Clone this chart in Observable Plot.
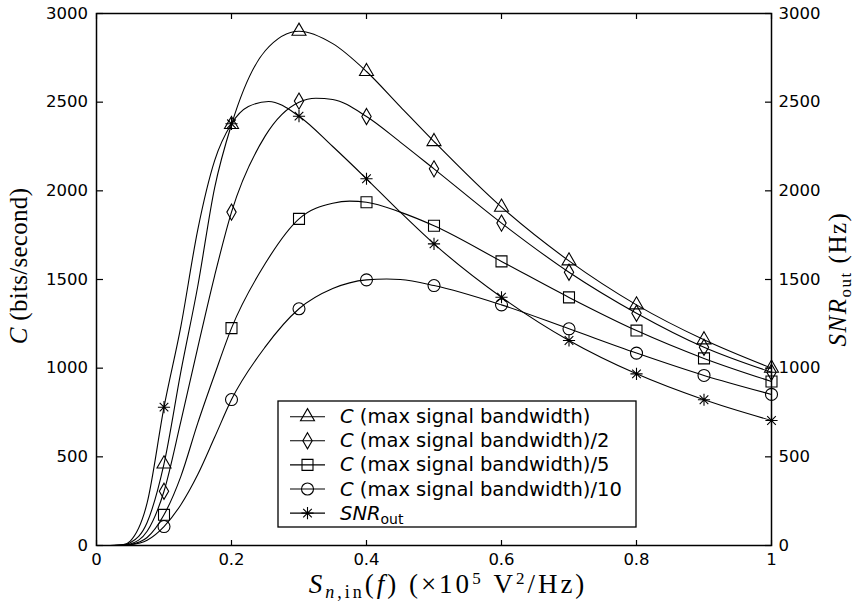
<!DOCTYPE html>
<html><head><meta charset="utf-8">
<script src="https://cdn.jsdelivr.net/npm/d3@7"></script>
<script src="https://cdn.jsdelivr.net/npm/@observablehq/plot@0.6"></script>
<style>body{margin:0;background:#fff}</style>
</head><body><div id="chart"></div>
<script>
// ---- data ----
const xTicks = [0, 0.2, 0.4, 0.6, 0.8, 1];
const yTicks = [0, 500, 1000, 1500, 2000, 2500, 3000];
const markerX = [0.1, 0.2, 0.3, 0.4, 0.5, 0.6, 0.7, 0.8, 0.9, 1.0];

const triMarkers  = [460, 2374, 2900, 2673, 2278, 1908, 1605, 1357, 1160, 1000];
const diaMarkers  = [306, 1880, 2506, 2419, 2124, 1818, 1541, 1310, 1118, 977];
const sqMarkers   = [173, 1226, 1842, 1936, 1803, 1602, 1399, 1212, 1055, 925];
const circMarkers = [107, 823, 1335, 1498, 1466, 1357, 1222, 1085, 959, 852];
const snrMarkers  = [780, 2378, 2421, 2068, 1701, 1400, 1156, 968, 822, 705];

const triCurveX  = [0.02, 0.04, 0.05, 0.075, 0.1, 0.125, 0.15, 0.175, 0.2, 0.25, 0.3, 0.35, 0.4, 0.45, 0.5, 0.6, 0.7, 0.8, 0.9, 1.0];
const triCurveY  = [0, 2, 15, 130, 460, 980, 1462, 2017, 2374, 2790, 2900, 2830, 2673, 2475, 2278, 1908, 1605, 1357, 1160, 1000];
const diaCurveX  = [0.02, 0.04, 0.05, 0.075, 0.1, 0.125, 0.15, 0.175, 0.2, 0.25, 0.3, 0.325, 0.35, 0.4, 0.45, 0.5, 0.6, 0.7, 0.8, 0.9, 1.0];
const diaCurveY  = [0, 1, 8, 80, 306, 700, 1116, 1521, 1880, 2310, 2500, 2522, 2515, 2419, 2275, 2124, 1818, 1541, 1310, 1118, 977];
const sqCurveX   = [0.02, 0.04, 0.05, 0.075, 0.1, 0.125, 0.15, 0.175, 0.2, 0.25, 0.3, 0.35, 0.375, 0.4, 0.45, 0.5, 0.6, 0.7, 0.8, 0.9, 1.0];
const sqCurveY   = [0, 1, 5, 45, 173, 390, 690, 964, 1226, 1590, 1842, 1930, 1942, 1936, 1880, 1803, 1602, 1399, 1212, 1055, 925];
const circCurveX = [0.02, 0.04, 0.05, 0.075, 0.1, 0.125, 0.15, 0.175, 0.2, 0.25, 0.3, 0.35, 0.4, 0.43, 0.45, 0.5, 0.6, 0.7, 0.8, 0.9, 1.0];
const circCurveY = [0, 1, 4, 30, 107, 230, 400, 610, 823, 1120, 1335, 1449, 1498, 1503, 1500, 1466, 1357, 1222, 1085, 959, 852];
const snrCurveX  = [0.02, 0.04, 0.05, 0.075, 0.1, 0.125, 0.15, 0.175, 0.2, 0.225, 0.255, 0.3, 0.35, 0.4, 0.45, 0.5, 0.6, 0.7, 0.8, 0.9, 1.0];
const snrCurveY  = [0, 5, 25, 240, 780, 1236, 1780, 2170, 2378, 2475, 2504, 2421, 2250, 2068, 1880, 1701, 1400, 1156, 968, 822, 705];

const legendLabels = [" (max signal bandwidth)", " (max signal bandwidth)/2", " (max signal bandwidth)/5", " (max signal bandwidth)/10", null];

// MATLAB-style 8-armed asterisk
const asterisk8 = {
  draw(ctx, size) {
    const r = Math.sqrt(size / Math.PI) * 1.05, d = r * Math.SQRT1_2;
    ctx.moveTo(0, -r); ctx.lineTo(0, r);
    ctx.moveTo(-r, 0); ctx.lineTo(r, 0);
    ctx.moveTo(-d, -d); ctx.lineTo(d, d);
    ctx.moveTo(-d, d); ctx.lineTo(d, -d);
  }
};

const series = [
  {symbol: d3.symbolTriangle, r: 5.2, markers: triMarkers,  cx: triCurveX,  cy: triCurveY},
  {symbol: d3.symbolDiamond,  r: 4.9, markers: diaMarkers,  cx: diaCurveX,  cy: diaCurveY},
  {symbol: d3.symbolSquare,   r: 6.2, markers: sqMarkers,   cx: sqCurveX,   cy: sqCurveY},
  {symbol: d3.symbolCircle,   r: 6.0, markers: circMarkers, cx: circCurveX, cy: circCurveY},
  {symbol: asterisk8,         r: 5.8, markers: snrMarkers,  cx: snrCurveX,  cy: snrCurveY}
];

// ---- layout ----
const W = 859, H = 605;
const mT = 13, mR = 88, mB = 60, mL = 96;
const plotW = W - mL - mR, plotH = H - mT - mB;
const tickFont = "DejaVu Sans";

const marks = [];
for (const s of series) {
  const rows = s.cx.map((x, i) => ({x, y: s.cy[i]}));
  marks.push(Plot.line(rows, {x: "x", y: "y", curve: "monotone-x", stroke: "#000", strokeWidth: 1.1}));
}
for (const s of series) {
  const rows = markerX.map((x, i) => ({x, y: s.markers[i]}));
  marks.push(Plot.dot(rows, {x: "x", y: "y", symbol: s.symbol, r: s.r, stroke: "#000", fill: "none", strokeWidth: 1.1}));
}
marks.push(Plot.frame({stroke: "#000", strokeWidth: 1.5}));
// inward ticks on all four sides
marks.push(Plot.axisX({ticks: xTicks, anchor: "top", tickSize: 6, tickFormat: () => "", label: null, dy: plotH, strokeWidth: 1.2}));
marks.push(Plot.axisX({ticks: xTicks, anchor: "bottom", tickSize: 6, tickFormat: () => "", label: null, dy: -plotH, strokeWidth: 1.2}));
marks.push(Plot.axisY({ticks: yTicks, anchor: "right", tickSize: 6, tickFormat: () => "", label: null, dx: -plotW, strokeWidth: 1.2}));
marks.push(Plot.axisY({ticks: yTicks, anchor: "left", tickSize: 6, tickFormat: () => "", label: null, dx: plotW, strokeWidth: 1.2}));
// tick labels
marks.push(Plot.axisX({ticks: xTicks, anchor: "bottom", tickSize: 0, tickPadding: 8, tickFormat: d => String(d), label: null}));
marks.push(Plot.axisY({ticks: yTicks, anchor: "left", tickSize: 0, tickPadding: 8.5, tickFormat: d => String(d), label: null}));
marks.push(Plot.axisY({ticks: yTicks, anchor: "right", tickSize: 0, tickPadding: 7, tickFormat: d => String(d), label: null}));

const svg = Plot.plot({
  width: W, height: H,
  marginTop: mT, marginRight: mR, marginBottom: mB, marginLeft: mL,
  style: {fontFamily: tickFont, fontSize: "16.5px", color: "#000", background: "#fff", overflow: "visible"},
  x: {domain: [0, 1], label: null},
  y: {domain: [0, 3000], label: null},
  marks
});

const root = d3.select(svg);
const serif = "Liberation Serif";

// left axis label
const lt = root.append("text")
  .attr("transform", "translate(27,266) rotate(-90)")
  .attr("text-anchor", "middle")
  .style("font-family", serif).style("font-size", "25px").style("letter-spacing", "0.3px").attr("fill", "#000");
lt.append("tspan").style("font-style", "italic").text("C");
lt.append("tspan").text("\u00a0(bits/second)");

// right axis label
const rt = root.append("text")
  .attr("transform", "translate(846,279) rotate(-90)")
  .attr("text-anchor", "middle")
  .style("font-family", serif).style("font-size", "25px").style("letter-spacing", "1.5px").attr("fill", "#000");
rt.append("tspan").style("font-style", "italic").text("SNR");
rt.append("tspan").attr("dy", 5).style("font-size", "17px").text("out");
rt.append("tspan").attr("dy", -5).text("\u00a0(Hz)");

// x axis label
const xt = root.append("text")
  .attr("x", 448).attr("y", 593)
  .attr("text-anchor", "middle")
  .style("font-family", serif).style("font-size", "27px").style("letter-spacing", "3px").attr("fill", "#000");
xt.append("tspan").style("font-style", "italic").text("S");
xt.append("tspan").attr("dy", 5).style("font-size", "18px").style("font-style", "italic").text("n");
xt.append("tspan").style("font-size", "18px").text(",in");
xt.append("tspan").attr("dy", -5).text("(");
xt.append("tspan").style("font-style", "italic").text("f");
xt.append("tspan").text(")\u00a0(\u00d710");
xt.append("tspan").attr("dy", -9).style("font-size", "17px").text("5");
xt.append("tspan").attr("dy", 9).text("\u00a0V");
xt.append("tspan").attr("dy", -9).style("font-size", "17px").text("2");
xt.append("tspan").attr("dy", 9).text("/Hz)");

// legend
const lg = root.append("g");
const lx = 278, ly = 401, lw = 358, lh = 126;
lg.append("rect").attr("x", lx).attr("y", ly).attr("width", lw).attr("height", lh)
  .attr("fill", "#fff").attr("stroke", "#000").attr("stroke-width", 1.3);
series.forEach((s, i) => {
  const cy = 416.7 + i * 24.1;
  lg.append("line").attr("x1", 290).attr("x2", 325).attr("y1", cy).attr("y2", cy).attr("stroke", "#000").attr("stroke-width", 1.1);
  lg.append("path").attr("transform", `translate(307.5,${cy})`)
    .attr("d", d3.symbol(s.symbol, s.r * s.r * Math.PI)())
    .attr("fill", "none").attr("stroke", "#000").attr("stroke-width", 1.1);
  const t = lg.append("text").attr("x", 340).attr("y", cy + 6.5)
    .attr("text-anchor", "start")
    .style("font-family", "DejaVu Sans").style("font-size", "19.5px").attr("fill", "#000");
  if (legendLabels[i]) {
    t.append("tspan").style("font-style", "italic").text("C");
    t.append("tspan").text(legendLabels[i]);
  } else {
    t.append("tspan").style("font-style", "italic").text("SNR");
    t.append("tspan").attr("dy", 4).style("font-size", "14px").text("out");
  }
});

document.getElementById("chart").appendChild(svg);
</script>
</body></html>
